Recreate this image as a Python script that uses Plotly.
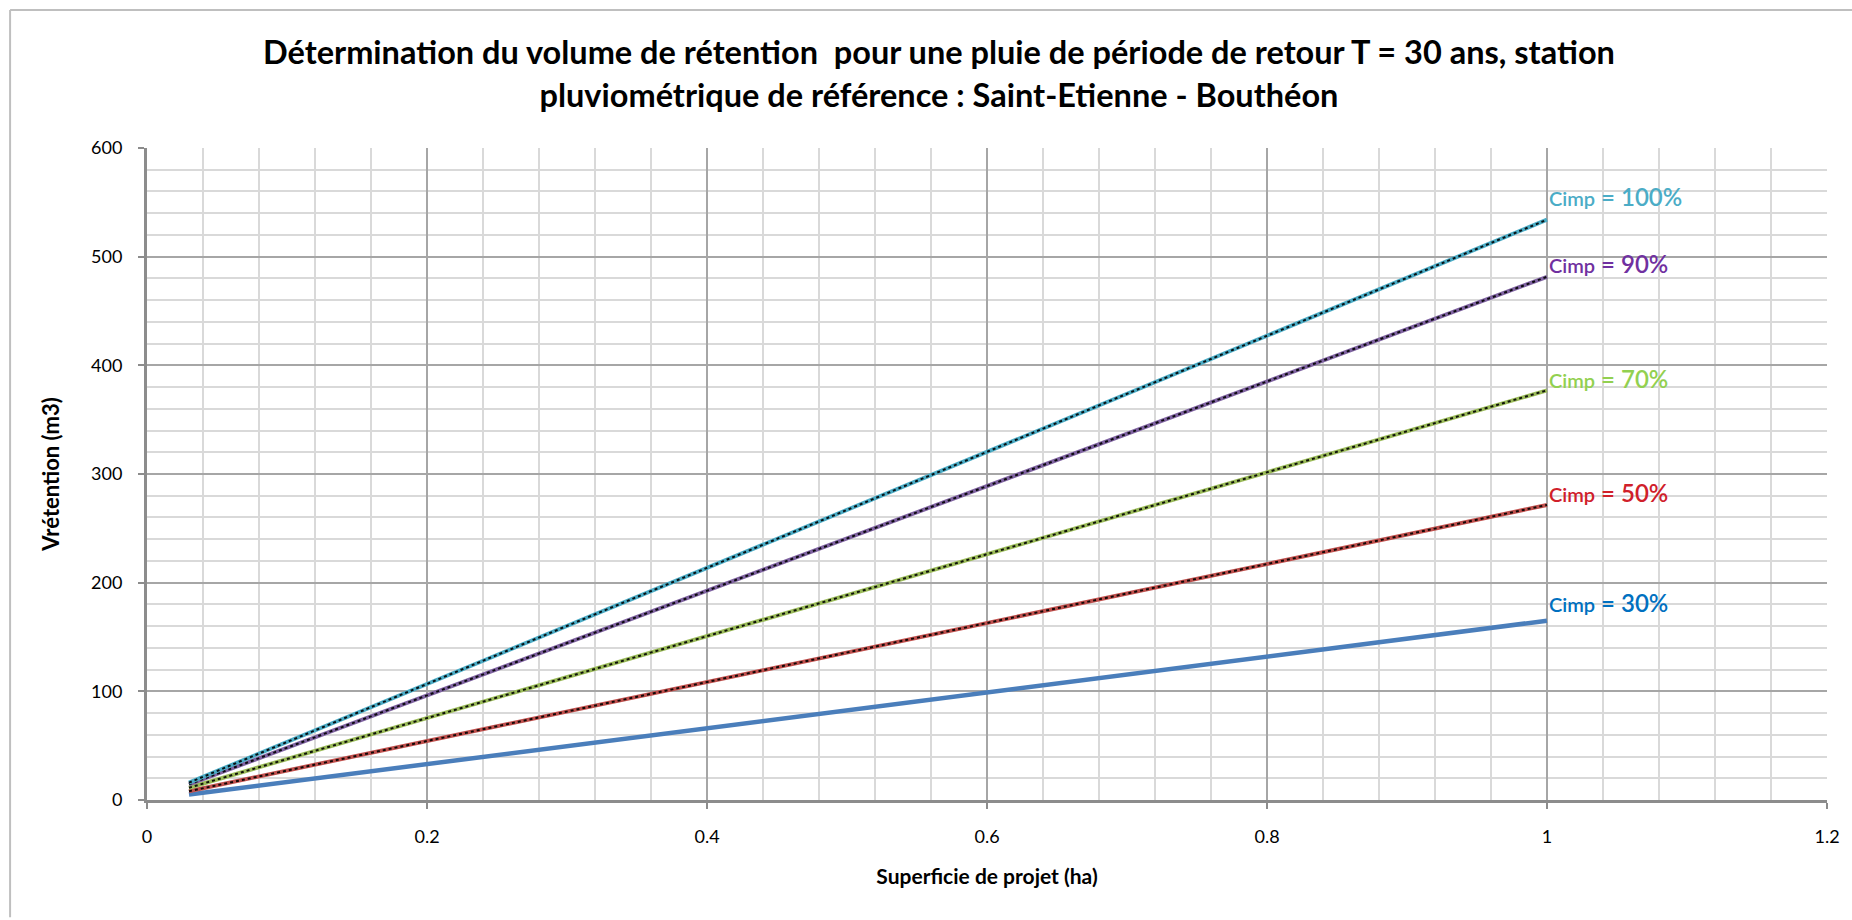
import plotly.graph_objects as go

# Surface du projet (ha) et volumes de rétention (m3) par coefficient d'imperméabilisation
superficie = [0.03, 1.0]
v_cimp_100 = [16.0, 534.0]
v_cimp_90 = [14.4, 481.5]
v_cimp_70 = [11.3, 377.0]
v_cimp_50 = [8.1, 271.5]
v_cimp_30 = [5.0, 165.0]

series = [
    ("Cimp = 30%", v_cimp_30, "#4A7EBB", "#0070C0", False, 182),
    ("Cimp = 50%", v_cimp_50, "#C0504D", "#D0202A", True, 283),
    ("Cimp = 70%", v_cimp_70, "#9BBB59", "#92D050", True, 388),
    ("Cimp = 90%", v_cimp_90, "#8064A2", "#7030A0", True, 494),
    ("Cimp = 100%", v_cimp_100, "#4BACC6", "#4BACC6", True, 555),
]

x_ticks = [0, 0.2, 0.4, 0.6, 0.8, 1, 1.2]
x_tick_text = ["0", "0.2", "0.4", "0.6", "0.8", "1", "1.2"]
y_ticks = [0, 100, 200, 300, 400, 500, 600]

FONT = "Lato, 'Open Sans', sans-serif"

fig = go.Figure()
for name, vals, line_col, lab_col, dark_core, lab_y in series:
    fig.add_trace(go.Scatter(
        x=superficie, y=vals, mode="lines", name=name,
        line=dict(color=line_col, width=4 if dark_core else 4.5),
        hoverinfo="x+y", showlegend=False,
    ))
    if dark_core:
        fig.add_trace(go.Scatter(
            x=superficie, y=vals, mode="lines",
            line=dict(color="rgba(0,0,0,0.9)", width=2, dash="dot"),
            hoverinfo="skip", showlegend=False,
        ))
    fig.add_annotation(
        x=1.0, y=lab_y, xref="x", yref="y", xanchor="left", yanchor="middle",
        xshift=0, showarrow=False,
        text=f"<span style='font-size:20px'>Cimp</span> = {name.split('= ')[1]}",
        font=dict(family=FONT, size=24, color=lab_col, weight=600),
    )

axis_common = dict(
    showline=True, linecolor="#8C8C8C", linewidth=3,
    ticks="outside", ticklen=6, tickcolor="#8C8C8C", tickwidth=2,
    gridcolor="#A6A6A6", gridwidth=1.6, zeroline=False,
    tickfont=dict(family=FONT, size=18, color="#000000"),
    ticklabelstandoff=12,
)

fig.update_xaxes(
    range=[0, 1.2], tickvals=x_ticks, ticktext=x_tick_text,
    minor=dict(dtick=0.04, tick0=0, showgrid=True, gridcolor="#D9D9D9", gridwidth=1.6),
    title=dict(text="<b>Superficie de projet (ha)</b>",
               font=dict(family=FONT, size=21, color="#000000"), standoff=24),
    **axis_common,
)
fig.update_yaxes(
    range=[0, 600], tickvals=y_ticks,
    minor=dict(dtick=20, tick0=0, showgrid=True, gridcolor="#D9D9D9", gridwidth=1.6),
    title=dict(text="<b>Vrétention (m3)</b>",
               font=dict(family=FONT, size=22, color="#000000"), standoff=26),
    **axis_common,
)

# Cadre extérieur du graphique (bords gauche et haut)
fig.add_shape(type="line", xref="paper", yref="paper",
              x0=-0.0815, x1=1.02, y0=1.2117, y1=1.2117,
              line=dict(color="#BFBFBF", width=2))
fig.add_shape(type="line", xref="paper", yref="paper",
              x0=-0.0815, x1=-0.0815, y0=-0.18, y1=1.2117,
              line=dict(color="#BFBFBF", width=2))

fig.update_layout(
    width=1852, height=920,
    margin=dict(l=147, r=25, t=148, b=120),
    paper_bgcolor="white", plot_bgcolor="white",
    title=dict(
        text=("<b>Détermination du volume de rétention  pour une pluie de période de retour T = 30 ans, station"
              "<br>pluviométrique de référence : Saint-Etienne - Bouthéon</b>"),
        font=dict(family=FONT, size=32.5, color="#000000"),
        x=0.507, xanchor="center", y=0.93, yanchor="middle",
    ),
)

fig.write_html("out.html")
